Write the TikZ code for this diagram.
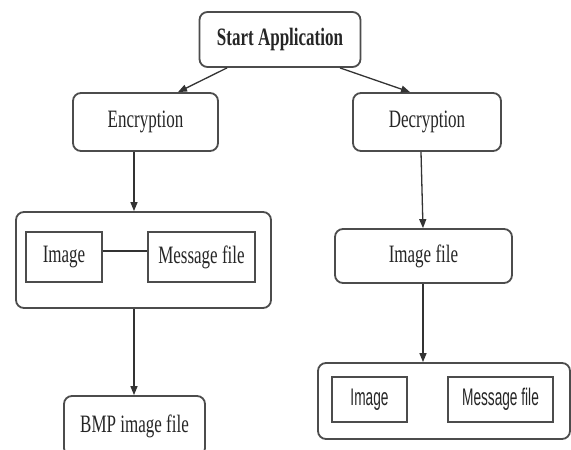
\documentclass[tikz,border=0pt]{standalone}
\usepackage{fontspec}
\usetikzlibrary{arrows.meta,calc}
\newfontfamily\serifc[FakeStretch=0.68]{Liberation Serif}
\newfontfamily\sansc[FakeStretch=0.57]{Liberation Sans}
\begin{document}
\begin{tikzpicture}[x=1pt,y=-1pt,
  rbox/.style={draw=black!70,line width=1.8pt,rounded corners=8pt,fill=white,inner sep=0pt,
    font=\serifc\fontsize{25}{29}\selectfont,text=black!85},
  sbox/.style={draw=black!70,line width=1.6pt,fill=white,inner sep=0pt,
    font=\serifc\fontsize{25}{29}\selectfont,text=black!85},
  sansbox/.style={sbox,font=\sansc\fontsize{24}{28}\selectfont},
  conn/.style={draw=black!80,line width=1.3pt},
  arr/.style={conn,-{Triangle[length=9pt,width=7pt]}}]
\useasboundingbox (0,0) rectangle (571,450);
\clip (0,0) rectangle (571,450);
\fill[white] (0,0) rectangle (571,450);
% nodes
\node[rbox,minimum width=161pt,minimum height=55pt,font=\serifc\bfseries\fontsize{25}{29}\selectfont] (start) at (280,39.5) {Start Application};
\node[rbox,minimum width=145pt,minimum height=58pt] (enc) at (145.5,122) {Encryption};
\node[rbox,minimum width=148pt,minimum height=58pt] (dec) at (427,122) {Decryption};
\node[rbox,minimum width=255pt,minimum height=96pt] (egroup) at (143.5,260) {};
\node[sbox,minimum width=76pt,minimum height=50pt] (eimg) at (64,257) {Image};
\node[sbox,minimum width=107pt,minimum height=50pt] (emsg) at (201.5,257) {Message file};
\node[rbox,minimum width=141pt,minimum height=60pt] (bmp) at (134.5,426) {BMP image file};
\node[rbox,minimum width=177pt,minimum height=54pt] (dfile) at (423.5,256) {Image file};
\node[rbox,minimum width=252pt,minimum height=76pt] (dgroup) at (444,401) {};
\node[sansbox,minimum width=75pt,minimum height=45pt] (dimg) at (369.5,399.5) {Image};
\node[sansbox,minimum width=105pt,minimum height=45pt] (dmsg) at (500.5,399.5) {Message file};
% connectors
\draw[arr] ($(start.south)+(-53,0)$) -- ($(enc.north)+(32.5,0)$);
\draw[arr] ($(start.south)+(60,0)$) -- ($(dec.north)+(-17,0)$);
\draw[arr] ($(enc.south)+(-11.5,0)$) -- ($(egroup.north)+(-9.5,0)$);
\draw[conn] ($(eimg.east)+(0,-6)$) -- ($(emsg.west)+(0,-6)$);
\draw[arr] ($(egroup.south)+(-9.5,0)$) -- ($(bmp.north)+(-0.5,0)$);
\draw[arr] ($(dec.south)+(-6,0)$) -- ($(dfile.north)+(-0.5,0)$);
\draw[arr] ($(dfile.south)+(-0.5,0)$) -- ($(dgroup.north)+(-21,0)$);
\end{tikzpicture}
\end{document}
